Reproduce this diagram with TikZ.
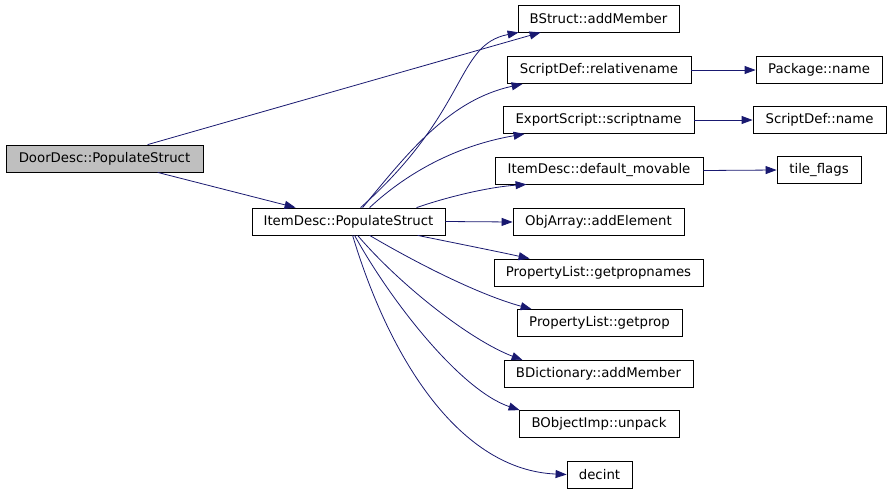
\documentclass[tikz,border=0pt]{standalone}
\usepackage{fontspec}
\newfontfamily\dejavu{DejaVu Sans}
\usetikzlibrary{arrows.meta}
\definecolor{edgeblue}{RGB}{25,25,112}
\definecolor{boxgray}{RGB}{191,191,191}
\begin{document}
\begin{tikzpicture}[x=1pt,y=-1pt,
  fn/.style={draw, line width=0.8pt, inner sep=0pt, minimum height=27pt,
    font=\dejavu\fontsize{13.3}{16}\selectfont},
  edge/.style={draw=edgeblue, line width=0.8pt,
    -{Triangle[length=11pt,width=8pt,fill=edgeblue]}}]
\useasboundingbox (0,0) rectangle (891,493);
% nodes
\node[fn, minimum width=197pt, fill=boxgray] (door) at (104.5,158.5) {DoorDesc::PopulateStruct};
\node[fn, minimum width=193pt] (ipop) at (348.5,221.5) {ItemDesc::PopulateStruct};
\node[fn, minimum width=161pt] (bstruct) at (598.5,18.5) {BStruct::addMember};
\node[fn, minimum width=184pt] (relname) at (599,70) {ScriptDef::relativename};
\node[fn, minimum width=191pt] (expscr) at (598.5,120) {ExportScript::scriptname};
\node[fn, minimum width=208pt] (idm) at (599,170.5) {ItemDesc::default\_movable};
\node[fn, minimum width=171pt] (objarr) at (598.5,222) {ObjArray::addElement};
\node[fn, minimum width=209pt] (plnames) at (598.5,272.5) {PropertyList::getpropnames};
\node[fn, minimum width=165pt] (plprop) at (599.5,323) {PropertyList::getprop};
\node[fn, minimum width=189pt] (bdict) at (598.5,374) {BDictionary::addMember};
\node[fn, minimum width=160pt] (bobj) at (599,424) {BObjectImp::unpack};
\node[fn, minimum width=65pt] (decint) at (599.5,474.5) {decint};
\node[fn, minimum width=126pt] (pkg) at (819,70) {Package::name};
\node[fn, minimum width=133pt] (sdname) at (819.5,120) {ScriptDef::name};
\node[fn, minimum width=84pt] (tile) at (819,170) {tile\_flags};
% edges
\draw[edge] ([xshift=142pt]door.north west) -- ([xshift=23pt]bstruct.south west);
\draw[edge] ([xshift=152pt]door.south west) -- ([xshift=44pt]ipop.north west);
\draw[edge] ([xshift=109pt]ipop.north west) .. controls (470,110) and (455,45) .. ([xshift=1pt]bstruct.south west);
\draw[edge] ([xshift=111pt]ipop.north west) .. controls (410,150) and (450,100) .. ([xshift=16pt]relname.south west);
\draw[edge] ([xshift=118pt]ipop.north west) .. controls (410,170) and (460,145) .. ([xshift=22pt]expscr.south west);
\draw[edge] ([xshift=165pt]ipop.north west) .. controls (450,196) and (490,187) .. ([xshift=32pt]idm.south west);
\draw[edge] (ipop.east) -- (objarr.west);
\draw[edge] ([xshift=166pt]ipop.south west) .. controls (450,242) and (500,252) .. ([xshift=36pt]plnames.north west);
\draw[edge] ([xshift=118pt]ipop.south west) .. controls (420,265) and (480,295) .. ([xshift=15pt]plprop.north west);
\draw[edge] ([xshift=106pt]ipop.south west) .. controls (400,285) and (470,340) .. ([xshift=19pt]bdict.north west);
\draw[edge] ([xshift=103pt]ipop.south west) .. controls (390,300) and (460,390) .. ([xshift=1pt]bobj.north west);
\draw[edge] ([xshift=101pt]ipop.south west) .. controls (390,360) and (460,470) .. (decint.west);
\draw[edge] (relname.east) -- (pkg.west);
\draw[edge] (expscr.east) -- (sdname.west);
\draw[edge] (idm.east) -- (tile.west);
\end{tikzpicture}
\end{document}
